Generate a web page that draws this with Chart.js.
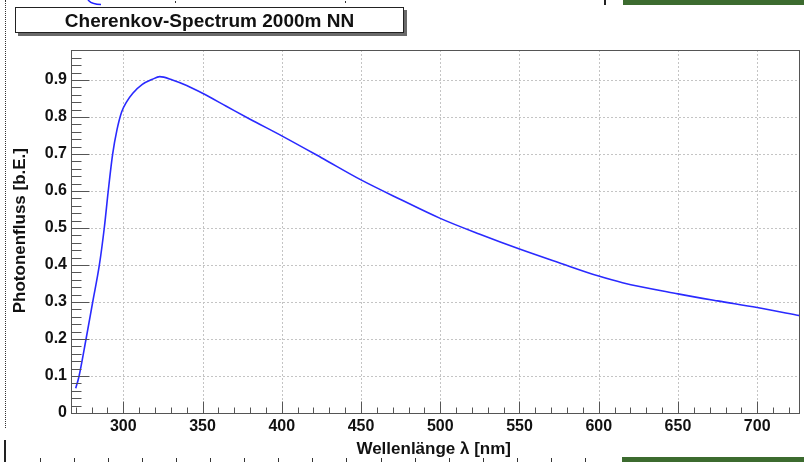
<!DOCTYPE html>
<html>
<head>
<meta charset="utf-8">
<script src="https://cdn.jsdelivr.net/npm/chart.js@4/dist/chart.umd.min.js"></script>
<style>
  html, body { margin: 0; padding: 0; background: #fff; overflow: hidden; }
  #wrap { position: relative; width: 804px; height: 462px; }
  #c { position: absolute; left: 0; top: 0; }
  .deco { position: absolute; }
  #title {
    position: absolute; left: 15px; top: 7px; width: 387px; height: 24px;
    border: 1px solid #222; background: #fff; box-shadow: 3px 3px 0 #6a6a6a;
    font: bold 19px "Liberation Sans", Arial, sans-serif; color: #111;
    text-align: center; line-height: 25px;
  }
</style>
</head>
<body>
<div id="wrap">
  <canvas id="c" width="804" height="462"></canvas>
  <div id="title">Cherenkov-Spectrum 2000m NN</div>
  <div class="deco" style="left:5px;top:0;height:428px;border-left:1px dotted #333"></div>
  <div class="deco" style="left:4px;top:440px;width:2px;height:22px;background:#222"></div>
  <div class="deco" style="left:604px;top:0;width:2px;height:5px;background:#222"></div>
  <div class="deco" style="left:623px;top:0;width:181px;height:5px;background:#3c6b2f"></div>
  <div class="deco" style="left:622px;top:457px;width:182px;height:5px;background:#3c6b2f"></div>
</div>
<script>
// Cherenkov photon spectrum at 2000 m above sea level
const wavelength = [270, 272, 276.5, 280.7, 284.9, 288, 290.5, 293.3, 296, 299, 302, 306, 312, 318, 323,
                    331, 340, 350, 365, 380, 400, 425, 450, 475, 500, 525, 550, 575, 600, 615,
                    650, 675, 700, 727];
const photonFlux = [0.067, 0.098, 0.20, 0.30, 0.40, 0.50, 0.60, 0.70, 0.765, 0.814, 0.840, 0.864, 0.888, 0.901, 0.909,
                    0.900, 0.885, 0.864, 0.829, 0.794, 0.749, 0.690, 0.630, 0.577, 0.526, 0.483, 0.443, 0.406, 0.370, 0.352,
                    0.322, 0.303, 0.285, 0.263];

const xTicks = [300, 350, 400, 450, 500, 550, 600, 650, 700];
const yTicks = [0, 0.1, 0.2, 0.3, 0.4, 0.5, 0.6, 0.7, 0.8, 0.9];
const xRange = [267, 727];
const yRange = [0, 0.981];

const xTitle = 'Wellenlänge λ [nm]';
const yTitle = 'Photonenfluss [b.E.]';

const FONT = '"Liberation Sans", Arial, sans-serif';

function line(ctx, x1, y1, x2, y2) {
  ctx.beginPath(); ctx.moveTo(x1, y1); ctx.lineTo(x2, y2); ctx.stroke();
}

// Dotted grid, frame, major/minor tick marks and axis titles
const frameAxes = {
  id: 'frameAxes',
  beforeDatasetsDraw(chart) {
    const { ctx, chartArea: a, scales: { x, y } } = chart;
    ctx.save();
    ctx.strokeStyle = '#c4c4c4';
    ctx.lineWidth = 1;
    ctx.setLineDash([2, 2]);
    xTicks.forEach(v => {
      const px = Math.round(x.getPixelForValue(v)) + 0.5;
      line(ctx, px, a.top, px, a.bottom);
    });
    yTicks.forEach(v => {
      if (v === 0) return;
      const py = Math.round(y.getPixelForValue(v)) + 0.5;
      line(ctx, a.left, py, a.right, py);
    });
    ctx.restore();
  },
  afterDatasetsDraw(chart) {
    const { ctx, chartArea: a, scales: { x, y } } = chart;
    ctx.save();
    ctx.strokeStyle = '#555';
    ctx.lineWidth = 1;
    // frame
    ctx.strokeRect(Math.round(a.left) + 0.5, Math.round(a.top) + 0.5,
                   Math.round(a.right - a.left) - 1, Math.round(a.bottom - a.top));
    // x ticks: major every 50 nm, minor every 10 nm
    const xb = Math.round(a.bottom) + 0.5;
    for (let v = 270; v <= xRange[1]; v += 10) {
      const px = Math.round(x.getPixelForValue(v)) + 0.5;
      const len = (v % 50 === 0) ? 12 : 6;
      line(ctx, px, xb, px, xb - len);
    }
    // y ticks: major every 0.1, minor every 0.02
    const yl = Math.round(a.left) + 0.5;
    for (let i = 0; i * 0.02 <= yRange[1] + 1e-9; i++) {
      const py = Math.round(y.getPixelForValue(i * 0.02)) + 0.5;
      const len = (i % 5 === 0) ? 18 : 10;
      line(ctx, yl, py, yl + len, py);
    }
    // axis titles
    ctx.fillStyle = '#111';
    ctx.font = 'bold 17px ' + FONT;
    ctx.textBaseline = 'middle';
    ctx.textAlign = 'right';
    ctx.fillText(xTitle, 511, 449);
    ctx.translate(20, 148);
    ctx.rotate(-Math.PI / 2);
    ctx.fillText(yTitle, 0, 0);
    ctx.restore();
  },
  afterDraw(chart) {
    const ctx = chart.ctx;
    ctx.save();
    // page border marks along the bottom edge
    ctx.strokeStyle = '#333';
    ctx.lineWidth = 1;
    for (let px = 39.5; px < 610; px += 34.1) {
      line(ctx, Math.round(px) + 0.5, 458, Math.round(px) + 0.5, 462);
    }
    ctx.fillStyle = '#333';
    ctx.fillRect(175, 1, 1, 2);
    ctx.fillRect(345, 1, 1, 2);
    ctx.strokeStyle = '#2020ff';
    ctx.lineWidth = 1.5;
    ctx.beginPath();
    ctx.moveTo(88, 0);
    ctx.quadraticCurveTo(92, 4.5, 101, 4.5);
    ctx.stroke();
    ctx.restore();
  }
};

new Chart(document.getElementById('c'), {
  type: 'line',
  data: {
    datasets: [{
      data: wavelength.map((w, i) => ({ x: w, y: photonFlux[i] })),
      borderColor: '#2a2aff',
      borderWidth: 1.6,
      pointRadius: 0,
      fill: false,
      cubicInterpolationMode: 'monotone'
    }]
  },
  options: {
    responsive: false,
    animation: false,
    events: [],
    layout: { padding: { top: 50, right: 4, left: 0, bottom: 0 } },
    plugins: { legend: { display: false }, tooltip: { enabled: false }, title: { display: false } },
    scales: {
      x: {
        type: 'linear',
        min: xRange[0], max: xRange[1],
        afterFit(s) { s.height = 49; },
        afterBuildTicks(s) { s.ticks = xTicks.map(v => ({ value: v })); },
        grid: { display: false, drawTicks: false },
        border: { display: false },
        ticks: {
          autoSkip: false, maxRotation: 0, padding: 4, color: '#111',
          font: { family: FONT, weight: 'bold', size: 16 },
          callback: v => String(v)
        }
      },
      y: {
        type: 'linear',
        min: yRange[0], max: yRange[1],
        afterFit(s) { s.width = 71; },
        afterBuildTicks(s) { s.ticks = yTicks.map(v => ({ value: v })); },
        grid: { display: false, drawTicks: false },
        border: { display: false },
        ticks: {
          autoSkip: false, padding: 4, color: '#111',
          font: { family: FONT, weight: 'bold', size: 16 },
          callback: v => (v === 0 ? '0' : v.toFixed(1))
        }
      }
    }
  },
  plugins: [frameAxes]
});
</script>
</body>
</html>
